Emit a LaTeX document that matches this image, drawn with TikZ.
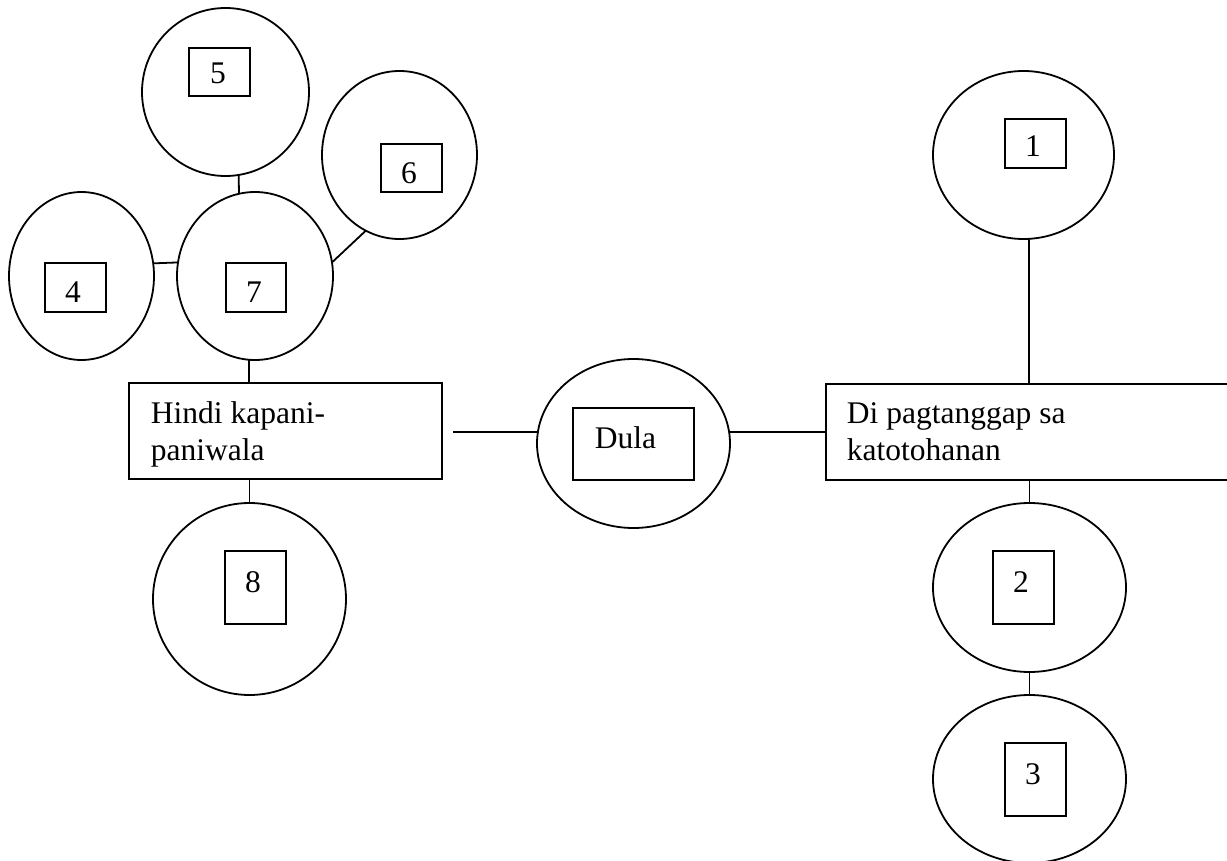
\documentclass[tikz,border=0pt]{standalone}
\usepackage{fontspec}
\setmainfont{Liberation Serif}
\usetikzlibrary{shapes.geometric}
\begin{document}
\begin{tikzpicture}[x=1pt,y=-1pt,line width=1.8pt,
  oval/.style={draw,ellipse,inner sep=0pt,outer sep=0pt},
  box/.style={draw,rectangle,inner sep=0pt,outer sep=0pt},
  lbl/.style={inner sep=0pt,anchor=base,font=\fontsize{31.5}{37}\selectfont},
  lbll/.style={lbl,anchor=base west}]
\useasboundingbox (0,0) rectangle (1227,861);
\clip (0,0) rectangle (1227,861);
% big ellipses
\node[oval,minimum width=167pt,minimum height=168pt] (e5) at (225.5,92) {};
\node[oval,minimum width=155pt,minimum height=168pt] (e6) at (399.5,155) {};
\node[oval,minimum width=145pt,minimum height=168pt] (e4) at (81.5,276) {};
\node[oval,minimum width=156pt,minimum height=168pt] (e7) at (255,276) {};
\node[oval,minimum width=193pt,minimum height=192pt] (e8) at (249.5,599) {};
\node[oval,minimum width=193pt,minimum height=169pt] (dula) at (633.5,443.5) {};
\node[oval,minimum width=181pt,minimum height=168pt] (e1) at (1023.5,155) {};
\node[oval,minimum width=193pt,minimum height=169pt] (e2) at (1029.5,587.5) {};
\node[oval,minimum width=193pt,minimum height=168pt] (e3) at (1029.5,779) {};
% rectangles
\node[box,minimum width=313pt,minimum height=96pt] (hindi) at (285.5,431) {};
\node[box,minimum width=414pt,minimum height=96pt] (di) at (1033,432) {};
% small boxes
\node[box,minimum width=61pt,minimum height=48pt] (b5) at (219.5,72) {};
\node[box,minimum width=61pt,minimum height=48pt] (b6) at (411.5,168) {};
\node[box,minimum width=61pt,minimum height=49pt] (b4) at (75.5,287.5) {};
\node[box,minimum width=60pt,minimum height=49pt] (b7) at (256,287.5) {};
\node[box,minimum width=61pt,minimum height=73pt] (b8) at (255.5,587.5) {};
\node[box,minimum width=121pt,minimum height=72pt] (bd) at (633.5,444) {};
\node[box,minimum width=61pt,minimum height=49pt] (b1) at (1035.5,143.5) {};
\node[box,minimum width=61pt,minimum height=73pt] (b2) at (1023.5,587.5) {};
\node[box,minimum width=61pt,minimum height=73pt] (b3) at (1035.5,779.5) {};
% labels
\node[lbl] (t5) at (218,84) {5};
\node[lbl] (t6) at (409,184) {6};
\node[lbl] (t4) at (73,302) {4};
\node[lbl] (t7) at (254,302) {7};
\node[lbl] (t8) at (253,592) {8};
\node[lbll] (td) at (594,448) {Dula};
\node[lbl] (t1) at (1033,157) {1};
\node[lbl] (t2) at (1021,592) {2};
\node[lbl] (t3) at (1033,784) {3};
\node[lbll] (th1) at (150,423) {Hindi kapani-};
\node[lbll] (th2) at (150,460) {paniwala};
\node[lbll] (tdi1) at (846,423) {Di pagtanggap sa};
\node[lbll] (tdi2) at (846,460) {katotohanan};
% connectors
\coordinate (hl) at ([xshift=11pt]hindi.east);
\draw (e5.-81) -- (e7.101);
\draw (e4.10) -- (e7.170);
\draw (e7.10) -- (e6.-114);
\draw (e7.-94) -- (e7.-94 |- hindi.north);
\draw (e8.north |- hindi.south) -- (e8.north);
\draw (dula.173) -- (dula.173 -| hl);
\draw (dula.7) -- (dula.7 -| di.west);
\draw (e1.-86) -- (e1.-86 |- di.north);
\draw (e2.north |- di.south) -- (e2.north);
\draw (e2.south) -- (e3.north);
\end{tikzpicture}
\end{document}
